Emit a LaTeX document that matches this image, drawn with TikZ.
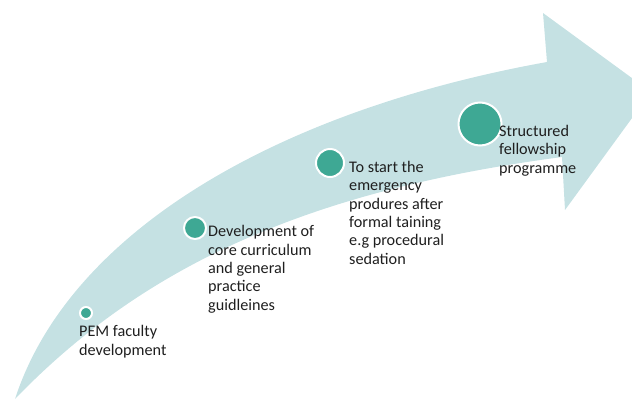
\documentclass[tikz,border=0pt]{standalone}
\usepackage{fontspec}
\setmainfont{Carlito}
\definecolor{bandc}{RGB}{197,225,227}
\definecolor{dotc}{RGB}{62,168,148}
\begin{document}
\begin{tikzpicture}[x=1pt,y=-1pt,
  dot/.style={circle,fill=dotc,draw=white,line width=2pt,inner sep=0pt},
  lbl/.style={anchor=base west,align=left,inner sep=0pt,font=\fontsize{16.2}{18.3}\selectfont,text=black!88}]
\useasboundingbox (0,0) rectangle (632,402);
\begin{scope}
\clip (0,0) rectangle (632,402);
\fill[bandc] (15,399) .. controls (70,230) and (280,110) .. (547,62) -- (543,13) -- (651,92) -- (565,210) -- (562,157) .. controls (312,190) and (145,264) .. cycle;
\end{scope}
\node[dot,minimum size=12pt] (d1) at (86,313) {};
\node[dot,minimum size=22pt] (d2) at (195,228) {};
\node[dot,minimum size=28pt] (d3) at (330,163) {};
\node[dot,minimum size=43pt] (d4) at (480,124) {};
% anchors at the baseline of the last line
\node[lbl] (t1) at (79,355) {PEM faculty\\development};
\node[lbl] (t2) at (208,310) {Development of\\core curriculum\\and general\\practice\\guidleines};
\node[lbl] (t3) at (349,264) {To start the\\emergency\\produres after\\formal taining\\e.g procedural\\sedation};
\node[lbl] (t4) at (499,173) {Structured\\fellowship\\programme};
\end{tikzpicture}
\end{document}
